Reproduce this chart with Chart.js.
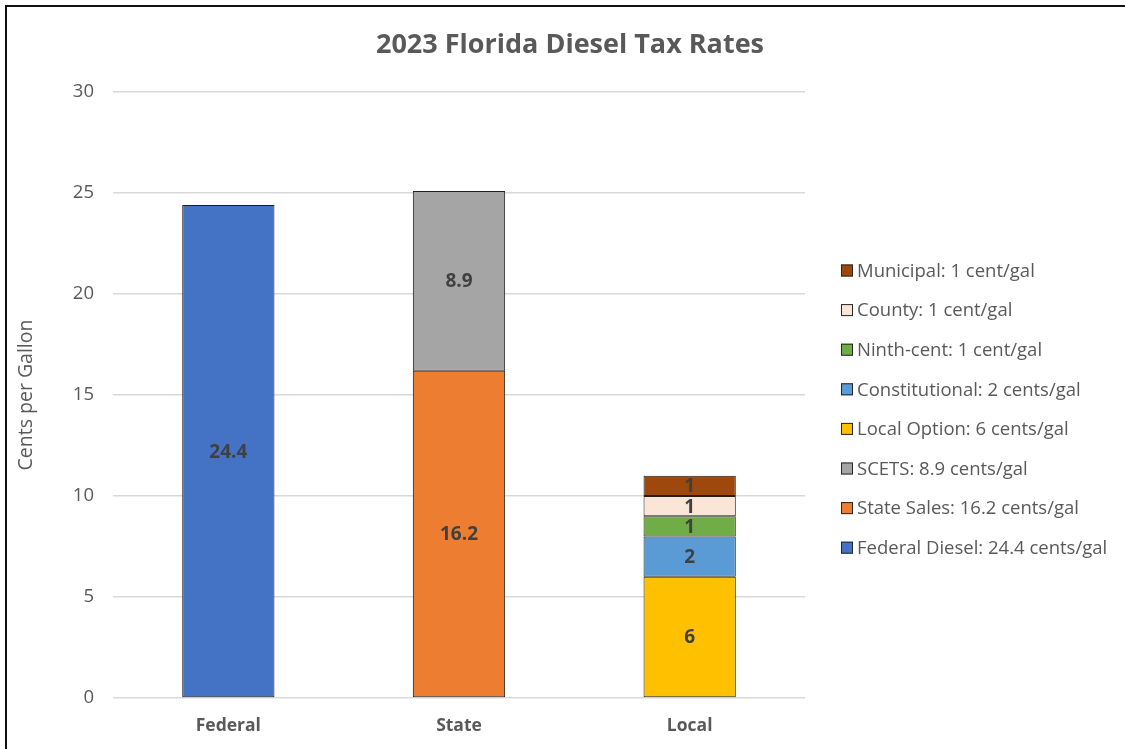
<!DOCTYPE html>
<html>
<head>
<meta charset="utf-8">
<script src="https://cdn.jsdelivr.net/npm/chart.js@4.4.0/dist/chart.umd.min.js"></script>
<style>
html,body{margin:0;padding:0;background:#fff;overflow:hidden;width:1125px;height:749px}
#frame{position:absolute;left:5px;top:5px;width:1200px;height:800px;border:2px solid #111;box-sizing:border-box}
#wrap{position:absolute;left:0;top:0;width:1140px;height:749px}
</style>
</head>
<body>
<div id="frame"></div>
<div id="wrap"><canvas id="c" width="1140" height="749"></canvas></div>
<script>
const chartTitle = '2023 Florida Diesel Tax Rates';
const yAxisTitle = 'Cents per Gallon';
const categories = ['Federal', 'State', 'Local'];
const seriesNames = [
  'Federal Diesel: 24.4 cents/gal',
  'State Sales: 16.2 cents/gal',
  'SCETS: 8.9 cents/gal',
  'Local Option: 6 cents/gal',
  'Constitutional: 2 cents/gal',
  'Ninth-cent: 1 cent/gal',
  'County: 1 cent/gal',
  'Municipal: 1 cent/gal'
];
const federalDiesel  = [24.4, null, null];
const stateSales     = [null, 16.2, null];
const scets          = [null, 8.9, null];
const localOption    = [null, null, 6];
const constitutional = [null, null, 2];
const ninthCent      = [null, null, 1];
const county         = [null, null, 1];
const municipal      = [null, null, 1];
const seriesValues = [federalDiesel, stateSales, scets, localOption, constitutional, ninthCent, county, municipal];
const seriesColors = ['#4472C4', '#ED7D31', '#A5A5A5', '#FFC000', '#5B9BD5', '#70AD47', '#FBE5D6', '#9E480E'];
const yTicks = [0, 5, 10, 15, 20, 25, 30];

const FONT = '"Open Sans", Lato, "Noto Sans", sans-serif';
const TEXT = '#595959';

const valueLabels = {
  id: 'valueLabels',
  afterDatasetsDraw(chart) {
    const ctx = chart.ctx;
    ctx.save();
    ctx.font = 'bold 19px ' + FONT;
    ctx.fillStyle = '#404040';
    ctx.textAlign = 'center';
    ctx.textBaseline = 'middle';
    chart.data.datasets.forEach((ds, di) => {
      const meta = chart.getDatasetMeta(di);
      meta.data.forEach((el, i) => {
        const v = ds.data[i];
        if (v === null || v === undefined) return;
        const p = el.getProps(['x', 'y', 'base'], true);
        ctx.fillText(String(v), p.x, (p.y + p.base) / 2 + 1);
      });
    });
    ctx.restore();
  }
};

const sideLegend = {
  id: 'sideLegend',
  afterDraw(chart) {
    const ctx = chart.ctx;
    const area = chart.chartArea;
    const boxX = area.right + 36;
    const firstY = 270.5;
    const step = 39.6;
    const n = chart.data.datasets.length;
    ctx.save();
    ctx.font = '18.5px ' + FONT;
    ctx.textBaseline = 'middle';
    ctx.textAlign = 'left';
    for (let k = 0; k < n; k++) {
      const di = n - 1 - k;
      const ds = chart.data.datasets[di];
      const cy = firstY + k * step;
      ctx.fillStyle = ds.backgroundColor;
      ctx.fillRect(boxX, cy - 6, 12, 12);
      ctx.strokeStyle = '#262626';
      ctx.lineWidth = 1;
      ctx.strokeRect(boxX + 0.5, cy - 5.5, 11, 11);
      ctx.fillStyle = TEXT;
      ctx.fillText(ds.label, boxX + 16, cy + 1);
    }
    ctx.restore();
  }
};

new Chart(document.getElementById('c'), {
  type: 'bar',
  data: {
    labels: categories,
    datasets: seriesNames.map((name, i) => ({
      label: name,
      data: seriesValues[i],
      backgroundColor: seriesColors[i],
      borderColor: '#1f1f1f',
      borderWidth: 1,
      borderSkipped: false,
      barPercentage: 0.4,
      categoryPercentage: 1.0
    }))
  },
  options: {
    responsive: false,
    animation: false,
    layout: { padding: { left: 0, right: 0, top: 0, bottom: 0 } },
    plugins: {
      legend: { display: false },
      tooltip: { enabled: false },
      title: {
        display: true,
        text: chartTitle,
        color: TEXT,
        font: { family: FONT, size: 27, weight: 'bold', lineHeight: 1.2 },
        padding: { top: 29, bottom: 30.6 }
      }
    },
    scales: {
      x: {
        stacked: true,
        grid: { display: false, drawTicks: false },
        border: { display: false },
        ticks: { color: TEXT, padding: 18, font: { family: FONT, size: 17.5, weight: 'bold' } },
        afterFit(s) { s.height = 51; }
      },
      y: {
        stacked: true,
        min: yTicks[0],
        max: yTicks[yTicks.length - 1],
        afterBuildTicks(s) { s.ticks = yTicks.map(v => ({ value: v })); },
        grid: { color: '#D9D9D9', lineWidth: 1.5, drawTicks: false },
        border: { display: false },
        ticks: { color: TEXT, padding: 19, font: { family: FONT, size: 18.5 } },
        title: {
          display: true,
          text: yAxisTitle,
          color: TEXT,
          font: { family: FONT, size: 19.5, lineHeight: 1.2 },
          padding: { top: 15, bottom: 0 }
        },
        afterFit(s) { s.width = 113; }
      },
      legendSpace: {
        type: 'linear',
        position: 'right',
        display: true,
        grid: { display: false, drawTicks: false },
        border: { display: false },
        ticks: { display: false },
        afterFit(s) { s.width = 335; }
      }
    }
  },
  plugins: [valueLabels, sideLegend]
});
</script>
</body>
</html>
